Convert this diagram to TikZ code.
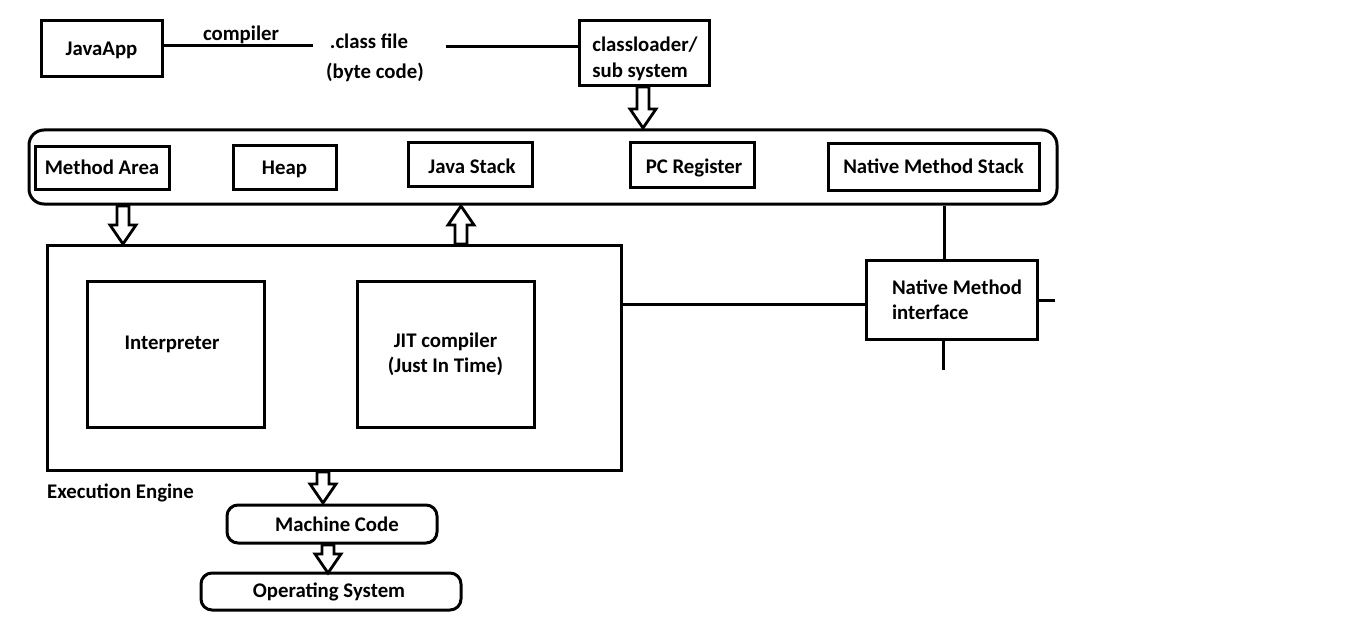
\documentclass[tikz,border=0pt]{standalone}
\usepackage{fontspec}
\setmainfont{Carlito}
\usetikzlibrary{calc}
\newcommand\hollowarrow[3]{%
  \pgfmathsetmacro\hb{#3 - 19*sign(#3-#2)}%
  \draw[arrowline] (#1-6,#2) -- (#1-6,\hb) -- (#1-13,\hb) -- (#1,#3) -- (#1+13,\hb) -- (#1+6,\hb) -- (#1+6,#2) -- cycle;}
\begin{document}
\begin{tikzpicture}[x=1pt,y=-1pt,
  every node/.style={font=\fontsize{20.8}{25}\selectfont\bfseries, inner sep=0pt},
  one/.style={text height=14pt, text depth=0.8pt},
  box/.style={draw, line width=3pt},
  link/.style={line width=3pt},
  arrowline/.style={line width=2.8pt, line join=miter, fill=white},
  pill/.style={draw, line width=3pt, rounded corners=11pt}]
\useasboundingbox (0,0) rectangle (1360,623);
% top row
\node[box, one, minimum width=121, minimum height=56] (ja) at (101.5,49) {JavaApp};
\node[one] (comp) at (241,34) {compiler};
\node[one] (cf) at (369,42) {.class file};
\node[one] (bc) at (375,72) {(byte code)};
\node[box, minimum width=130, minimum height=65] (cl) at (644,53.5) {};
\node[align=left, font=\fontsize{20.8}{26}\selectfont\bfseries] (clt) at (645,58.5) {classloader/\\sub system};
\draw[link] (ja.east |- 0,46) -- (313,46);
\draw[link] (446,47) -- (cl.west |- 0,47);
% runtime data areas
\node[box, rounded corners=15pt, minimum width=1028, minimum height=74] (rb) at (543,167) {};
\node[box, one, minimum width=134, minimum height=42] (ma) at (102,168) {Method Area};
\node[box, one, minimum width=103, minimum height=43] (heap) at (284.5,167.5) {Heap};
\node[box, minimum width=124, minimum height=43] (js) at (470,164.5) {};
\node[one] (jst) at (472,167) {Java Stack};
\node[box, minimum width=124, minimum height=44] (pc) at (692,165) {};
\node[one] (pct) at (694,167) {PC Register};
\node[box, one, minimum width=211, minimum height=47] (nms) at (933.5,167) {Native Method Stack};
% execution engine
\node[box, minimum width=574, minimum height=225] (ee) at (334,357.5) {};
\node[box, minimum width=177, minimum height=146] (interp) at (175.5,354) {};
\node[one] (interpt) at (172,343) {Interpreter};
\node[box, minimum width=177, minimum height=146, align=center] (jit) at (445.5,354.5) {JIT compiler\\(Just In Time)};
\node[one, anchor=west] (eet) at (47,492) {Execution Engine};
% native method interface
\node[box, minimum width=171, minimum height=79] (nmi) at (951.5,299.5) {};
\node[align=left] (nmit) at (957,299.5) {Native Method\\interface};
\draw[link] (ee.east |- 0,304) -- (nmi.west |- 0,304);
\draw[link] (rb.south -| 944,0) -- (nmi.north -| 944,0);
\draw[link] (nmi.east |- 0,300) -- (1055,300);
\draw[link] (nmi.south -| 943,0) -- (943,370);
% machine code and OS
\node[pill, minimum width=210, minimum height=38] (mc) at (332,524) {};
\node[one] (mct) at (337,525) {Machine Code};
\node[pill, minimum width=260, minimum height=37] (os) at (331,591.5) {};
\node[one] (ost) at (329,591) {Operating System};
% hollow arrows
\hollowarrow{643}{87}{128}
\hollowarrow{123}{206}{244}
\hollowarrow{461}{244}{206}
\hollowarrow{323}{472}{503}
\hollowarrow{328}{545}{573}
\end{tikzpicture}
\end{document}
